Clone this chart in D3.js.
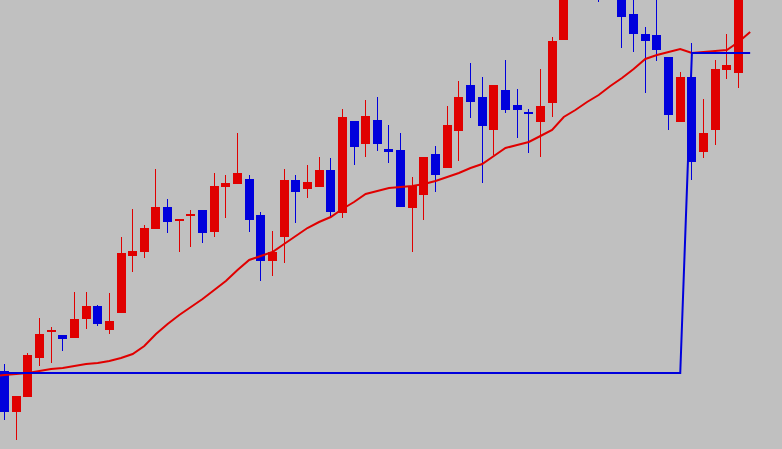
<!DOCTYPE html>
<html>
<head>
<meta charset="utf-8">
<script src="https://cdn.jsdelivr.net/npm/d3@7"></script>
<style>
  html, body { margin: 0; padding: 0; background: #c0c0c0; overflow: hidden; }
  svg { display: block; }
</style>
</head>
<body>
<svg id="chart" width="782" height="449"></svg>
<script>
// bar index -1 sits just off the left edge, bar 64 is the forming bar on the right
var firstBar = -1;

var opens  = [1.2590,1.2578,1.2537,1.2552,1.2591,1.2617,1.2614,1.2611,1.2630,1.2643,1.2619,
              1.2636,1.2693,1.2697,1.2720,1.2742,1.2728,1.2733,1.2739,1.2717,1.2762,
              1.2765,1.2770,1.2734,1.2688,1.2712,1.2769,1.2760,1.2762,1.2779,1.2736,
              1.2828,1.2805,1.2829,1.2800,1.2799,1.2741,1.2754,1.2795,1.2781,1.2818,
              1.2864,1.2852,1.2819,1.2859,1.2844,1.2837,1.2827,1.2846,1.2909,1.2977,
              1.3009,1.2989,1.2964,1.2969,1.2935,1.2915,1.2914,1.2892,1.2827,1.2872,
              1.2797,1.2819,1.2879,1.2876,1.2974];
var highs  = [1.2602,1.2585,1.2553,1.2596,1.2631,1.2622,1.2614,1.2657,1.2657,1.2644,1.2656,
              1.2712,1.2740,1.2724,1.2780,1.2750,1.2730,1.2739,1.2739,1.2776,1.2774,
              1.2816,1.2774,1.2737,1.2718,1.2780,1.2774,1.2784,1.2792,1.2791,1.2840,
              1.2828,1.2849,1.2852,1.2824,1.2816,1.2772,1.2792,1.2803,1.2843,1.2868,
              1.2886,1.2872,1.2864,1.2889,1.2860,1.2840,1.2880,1.2912,1.2994,1.3024,
              1.3019,1.2999,1.2994,1.2989,1.2959,1.2922,1.2954,1.2892,1.2877,1.2906,
              1.2850,1.2889,1.2915,1.2979,1.3019];
var lows   = [1.2572,1.2529,1.2509,1.2552,1.2583,1.2586,1.2598,1.2611,1.2620,1.2623,1.2615,
              1.2636,1.2677,1.2691,1.2720,1.2716,1.2697,1.2702,1.2706,1.2712,1.2731,
              1.2765,1.2717,1.2668,1.2673,1.2686,1.2726,1.2751,1.2762,1.2732,1.2731,
              1.2784,1.2792,1.2798,1.2786,1.2742,1.2697,1.2729,1.2757,1.2781,1.2788,
              1.2831,1.2766,1.2794,1.2836,1.2811,1.2796,1.2792,1.2832,1.2909,1.2969,
              1.2979,1.2947,1.2959,1.2901,1.2897,1.2856,1.2888,1.2819,1.2827,1.2769,
              1.2791,1.2804,1.2870,1.2861,1.2969];
var closes = [1.2579,1.2537,1.2553,1.2594,1.2615,1.2619,1.2610,1.2630,1.2643,1.2625,1.2628,
              1.2696,1.2698,1.2721,1.2742,1.2727,1.2730,1.2735,1.2716,1.2763,1.2766,
              1.2776,1.2729,1.2688,1.2697,1.2769,1.2757,1.2767,1.2779,1.2737,1.2832,
              1.2802,1.2833,1.2805,1.2797,1.2742,1.2763,1.2792,1.2774,1.2824,1.2852,
              1.2847,1.2823,1.2864,1.2839,1.2839,1.2835,1.2843,1.2908,1.2979,1.3009,
              1.2989,1.2964,1.2974,1.2932,1.2915,1.2908,1.2899,1.2834,1.2872,1.2787,
              1.2816,1.2880,1.2884,1.2969,1.3004];

// moving average (red) and the blue level line
var maValues = [1.2573,1.2574,1.2575,1.2576,1.2578,1.2580,1.2581,1.2583,1.2585,1.2586,1.2588,
                1.2591,1.2595,1.2603,1.2615,1.2625,1.2634,1.2642,1.2650,1.2659,1.2668,
                1.2679,1.2689,1.2693,1.2697,1.2705,1.2713,1.2721,1.2727,1.2732,1.2740,
                1.2747,1.2755,1.2758,1.2761,1.2762,1.2763,1.2765,1.2768,1.2772,1.2776,
                1.2781,1.2785,1.2793,1.2801,1.2804,1.2807,1.2813,1.2819,1.2832,1.2839,
                1.2847,1.2854,1.2863,1.2871,1.2880,1.2890,1.2894,1.2897,1.2900,1.2896,
                1.2897,1.2898,1.2899,1.2907,1.2917];
var levelValues = [];
for (var k = 0; k < opens.length; k++) {
    levelValues.push(k + firstBar < 59 ? 1.2576 : 1.2896);
}

var upColor = "#e00000";
var downColor = "#0000dc";

var svg = d3.select("#chart");
var width = 782, height = 449;

svg.append("rect")
    .attr("width", width)
    .attr("height", height)
    .attr("fill", "#c0c0c0");

var x = d3.scaleLinear().domain([0, 63]).range([4.5, 738.5]);
var y = d3.scaleLinear().domain([1.2500, 1.2949]).range([height, 0]);

var bars = opens.map(function(o, i) {
    return { i: i + firstBar, o: o, h: highs[i], l: lows[i], c: closes[i],
             ma: maValues[i], level: levelValues[i] };
});

var bodyW = 9;

var candles = svg.append("g").selectAll("g")
    .data(bars)
    .enter()
    .append("g");

// wicks
candles.append("line")
    .attr("x1", function(d) { return Math.round(x(d.i) - bodyW / 2) + 4.5; })
    .attr("x2", function(d) { return Math.round(x(d.i) - bodyW / 2) + 4.5; })
    .attr("y1", function(d) { return y(d.h); })
    .attr("y2", function(d) { return y(d.l); })
    .attr("stroke", function(d) { return d.c >= d.o ? upColor : downColor; })
    .attr("stroke-width", 1);

// bodies
candles.append("rect")
    .attr("x", function(d) { return Math.round(x(d.i) - bodyW / 2); })
    .attr("width", bodyW)
    .attr("y", function(d) { return y(Math.max(d.o, d.c)); })
    .attr("height", function(d) { return Math.max(1.5, Math.abs(y(d.o) - y(d.c))); })
    .attr("fill", function(d) { return d.c >= d.o ? upColor : downColor; });

var maLine = d3.line()
    .x(function(d) { return x(d.i); })
    .y(function(d) { return y(d.ma); });

svg.append("path")
    .datum(bars)
    .attr("d", maLine)
    .attr("fill", "none")
    .attr("stroke", upColor)
    .attr("stroke-width", 2);

var levelLine = d3.line()
    .x(function(d) { return x(d.i); })
    .y(function(d) { return y(d.level); });

svg.append("path")
    .datum(bars)
    .attr("d", levelLine)
    .attr("fill", "none")
    .attr("stroke", downColor)
    .attr("stroke-width", 2);
</script>
</body>
</html>
